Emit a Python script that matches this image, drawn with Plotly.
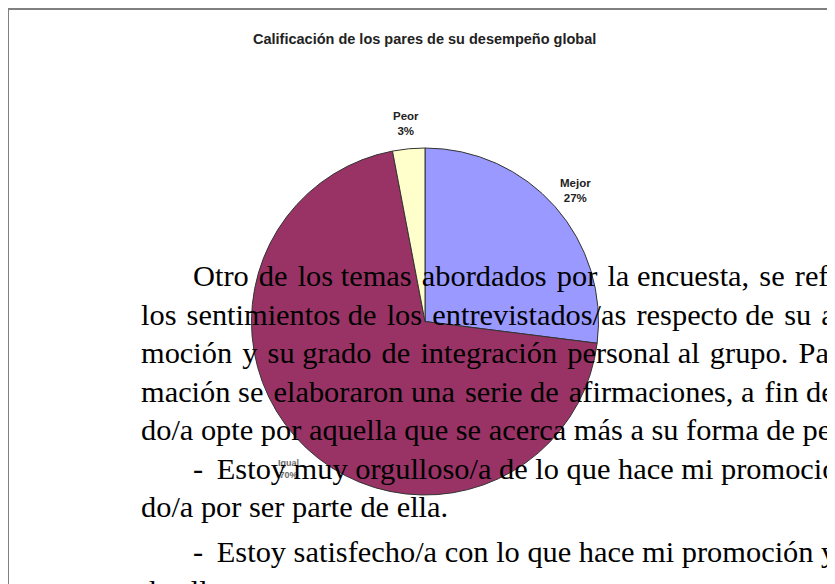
import math
import plotly.graph_objects as go

# ---- data ----
categories = ["Mejor", "Igual", "Peor"]
values = [27, 70, 3]
colors = ["#9999FF", "#993366", "#FFFFCC"]
title_text = "Calificación de los pares de su desempeño global"

# overlaid document text (visible portion)
doc_lines = [
    "Otro de los temas abordados por la encuesta, se ref",
    "los sentimientos de los entrevistados/as respecto de su a",
    "moción y su grado de integración personal al grupo. Pa",
    "mación se elaboraron una serie de afirmaciones, a fin de",
    "do/a opte por aquella que se acerca más a su forma de pen",
    "- \u2009Estoy muy orgulloso/a de lo que hace mi promoció",
    "do/a por ser parte de ella.",
    "- \u2009Estoy satisfecho/a con lo que hace mi promoción y",
    "de ella.",
]

# ---- layout of the document text ----
doc_indent = [True, False, False, False, False, True, False, True, False]
doc_para_break_before = [False, False, False, False, False, False, False, True, False]
doc_justify = [7, 6, 7, 4, 0, 0, 0, 0, 0]  # hair spaces spread over word gaps (justification)

W, H = 835, 584
OFF = 8  # page body margin compensation


def px(x):
    return (x - OFF) / W


def py(y):
    return 1 - (y - OFF) / H


def justify(line, k):
    words = line.split(" ")
    n = len(words) - 1
    if k <= 0 or n <= 0:
        return line
    extra = [0] * n
    for j in range(k):
        extra[min(n - 1, int((j + 0.5) * n / k))] += 1
    out = words[0]
    for g in range(n):
        out += " " + "\u200a" * extra[g] + words[g + 1]
    return out


cx, cy, r = 425, 321.5, 173.5

fig = go.Figure()
fig.add_trace(go.Pie(
    labels=categories,
    values=values,
    marker=dict(colors=colors, line=dict(color="#333333", width=1)),
    sort=False,
    direction="clockwise",
    rotation=0,
    textinfo="none",
    showlegend=False,
    hoverinfo="label+percent",
    domain=dict(x=[px(cx - r), px(cx + r)], y=[py(cy + r), py(cy - r)]),
))

annotations = [dict(
    text="<b>" + title_text + "</b>",
    x=px(424.5), y=py(39), xref="paper", yref="paper",
    xanchor="center", yanchor="middle", showarrow=False,
    font=dict(family="Arial, Liberation Sans, sans-serif", size=14.5, color="#222222"),
)]

# slice labels placed radially outside the pie (Excel style), from the data
total = sum(values)
R_lab = 200
cum = 0
label_style = {"Igual": dict(size=9, color="#6a6a6a")}
for cat, v in zip(categories, values):
    theta = 2 * math.pi * (cum + v / 2) / total
    cum += v
    lx = cx + R_lab * math.sin(theta)
    ly = cy - R_lab * math.cos(theta)
    st = label_style.get(cat, dict(size=11.5, color="#222222"))
    annotations.append(dict(
        text="<b>%s<br>%d%%</b>" % (cat, round(100 * v / total)),
        x=px(lx), y=py(ly + 1.5), xref="paper", yref="paper",
        xanchor="center", yanchor="middle", showarrow=False,
        font=dict(family="Arial, Liberation Sans, sans-serif", size=st["size"], color=st["color"]),
    ))

fs = 30.4
baseline = 286.7
for i, line in enumerate(doc_lines):
    if i > 0:
        baseline += 38.5 + (6.5 if doc_para_break_before[i] else 0)
    xpos = 191 if doc_indent[i] else 139
    annotations.append(dict(
        text=justify(line, doc_justify[i]), x=px(xpos), y=py(baseline - 0.3375 * fs),
        xref="paper", yref="paper", xanchor="left", yanchor="middle",
        showarrow=False,
        font=dict(family="Liberation Serif, Times New Roman, serif", size=fs, color="#000000"),
    ))

shapes = [
    dict(type="line", xref="paper", yref="paper", x0=px(8), x1=1, y0=py(9), y1=py(9),
         line=dict(color="#808080", width=2)),
    dict(type="line", xref="paper", yref="paper", x0=px(8), x1=px(8), y0=0, y1=py(9),
         line=dict(color="#808080", width=2)),
]

fig.update_layout(
    width=W, height=H,
    margin=dict(l=0, r=0, t=0, b=0),
    paper_bgcolor="white", plot_bgcolor="white",
    annotations=annotations,
    shapes=shapes,
)

fig.write_html("out.html")
